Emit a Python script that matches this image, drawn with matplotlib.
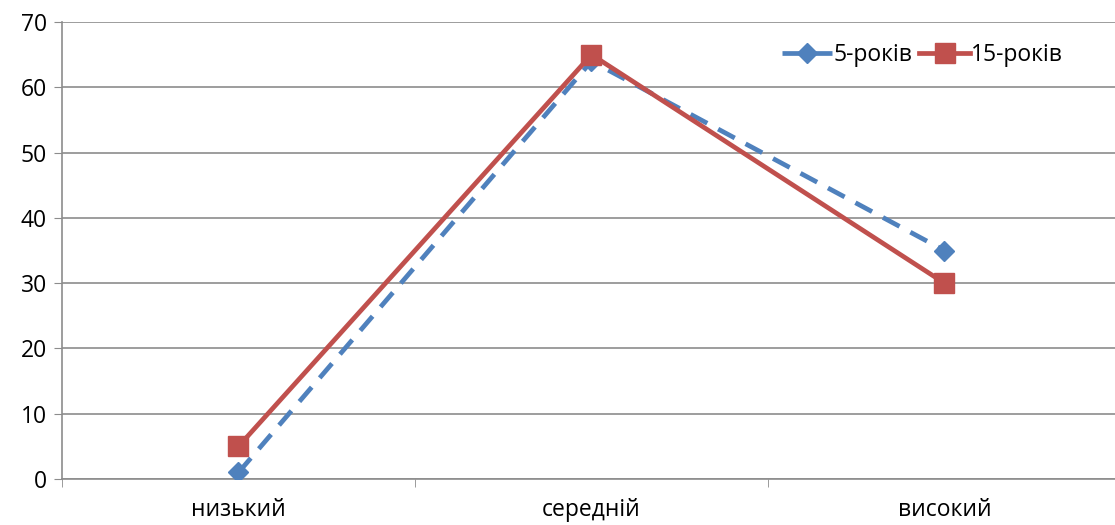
import matplotlib.pyplot as plt
import numpy as np

# Дані
categories = ['низький', 'середній', 'високий']
five_years = [1, 64, 35]
fifteen_years = [5, 65, 30]
series_names = ['5-років', '15-років']

plt.rcParams['font.family'] = ['Open Sans', 'DejaVu Sans']

fig = plt.figure(figsize=(11.15, 5.25), dpi=100)
ax = fig.add_axes([62 / 1115, 46 / 525, 1059 / 1115, 457 / 525])

x = np.arange(len(categories))

ax.plot(x, five_years, color='#4F81BD', lw=3.4, ls=(0, (4, 2.6)),
        marker='D', markersize=10, label=series_names[0], zorder=3)
ax.plot(x, fifteen_years, color='#C0504D', lw=3.4,
        marker='s', markersize=14, label=series_names[1], zorder=4)

ax.set_xlim(-0.5, 2.5)
ax.set_ylim(0, 70)
ax.set_yticks(range(0, 71, 10))
ax.set_xticks(x)
ax.set_xticklabels(categories)
ax.set_xticks([-0.5, 0.5, 1.5, 2.5], minor=True)

ax.grid(axis='y', color='#8c8c8c', lw=1.2)
ax.set_axisbelow(True)
for s in ['top', 'right']:
    ax.spines[s].set_visible(False)
for s in ['left', 'bottom']:
    ax.spines[s].set_color('#8c8c8c')
    ax.spines[s].set_linewidth(1.2)

fs = 16.5
ax.tick_params(axis='y', length=6, color='#8c8c8c', labelsize=fs, pad=5)
ax.tick_params(axis='x', which='major', length=0, labelsize=fs, pad=14)
ax.tick_params(axis='x', which='minor', length=6, color='#8c8c8c')

ax.legend(loc='center right', bbox_to_anchor=(0.945, 0.928), ncol=2, frameon=False,
          fontsize=fs, handlelength=2.2, columnspacing=0.3, handletextpad=0.05,
          borderaxespad=0, borderpad=0)

fig.savefig('out.png', dpi=100)
